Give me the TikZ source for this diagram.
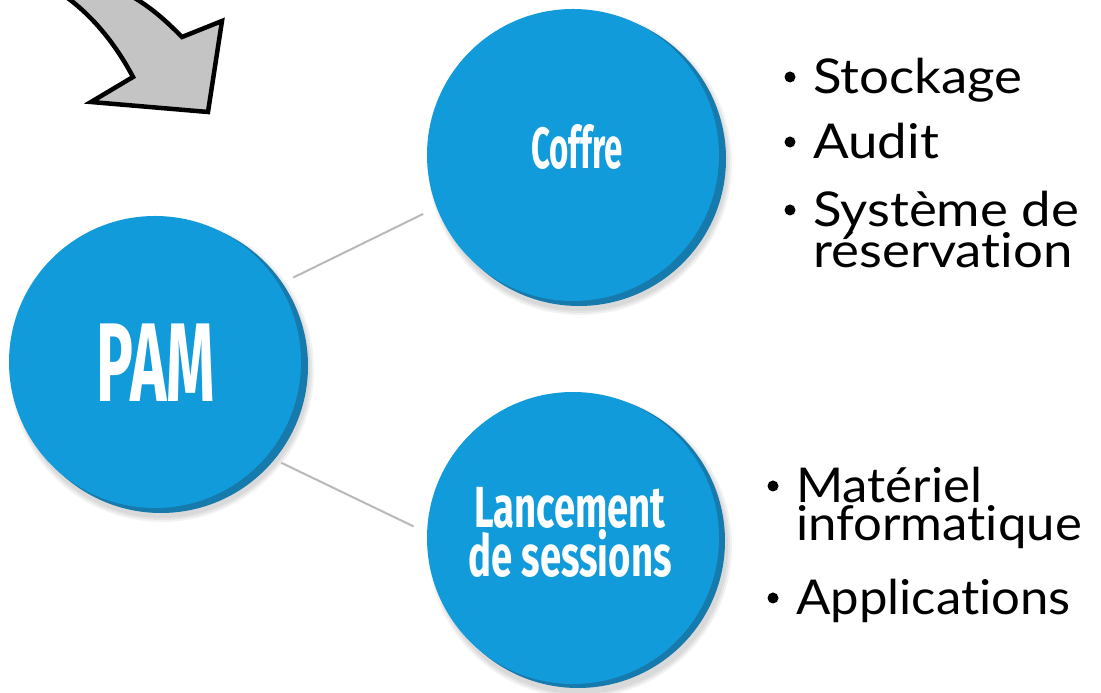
\documentclass[tikz,border=0pt]{standalone}
\usepackage{fontspec}
\setmainfont{Lato}[Ligatures=NoCommon]
\newfontfamily\condfont{Fira Sans}[Ligatures=NoCommon]
\usetikzlibrary{calc}
\definecolor{pamblue}{RGB}{17,155,218}
\definecolor{rimblue}{RGB}{22,122,172}
\definecolor{connGray}{RGB}{185,185,185}
\definecolor{arrowGray}{RGB}{196,196,196}
\begin{document}
\begin{tikzpicture}[x=1pt,y=1pt,
  bubble/.style={circle, fill=pamblue, minimum size=292pt, inner sep=0pt, outer sep=0pt},
  rimfill/.style={fill=rimblue},
  shadefill/.style={fill=black, opacity=0.05},
  conn/.style={draw=connGray, line width=2pt, shorten <=16pt, shorten >=15pt},
  bigtxt/.style={text=white, inner sep=0pt},
  itemtxt/.style={anchor=base west, xscale=1.1, font=\fontsize{48}{48}\selectfont, inner sep=0pt},
  itemtxtb/.style={itemtxt, xscale=1.06/1.1},
  dotnode/.style={circle, fill=black, minimum size=11pt, inner sep=0pt}
]
\useasboundingbox (0,0) rectangle (1101,693);
\clip (0,0) rectangle (1101,693);
\fill[white] (0,0) rectangle (1101,693);

% curved arrow
\draw[line width=4.5pt, fill=arrowGray, line join=miter]
  (20,720) .. controls (80,700) and (115,650) .. (133,616)
  -- (91,591) -- (208,581) -- (222,672) -- (182,656)
  .. controls (168,670) and (150,688) .. (122,702) -- (100,720) -- cycle;

% shadows and rims
\foreach \r in {148,150,152} {
  \fill[shadefill] (162,323) circle (\r);
  \fill[shadefill] (580,530) circle (\r);
  \fill[shadefill] (580,147) circle (\r);
}
\fill[rimfill] (161,327) circle (147);
\fill[rimfill] (579,534) circle (147);
\fill[rimfill] (578,152) circle (147);

% bubbles
\node[bubble] (PAM) at (155,331) {};
\node[bubble] (coffre) at (573,538) {};
\node[bubble] (lanc) at (573,155) {};

\node[bigtxt, xscale=0.55, font=\condfont\bfseries\fontsize{112}{112}\selectfont] (pamlbl) at (156,330) {PAM};
\node[bigtxt, xscale=0.57, font=\condfont\bfseries\fontsize{58}{58}\selectfont] (coffrelbl) at (577,546) {Coffre};
\node[bigtxt, xscale=0.66, align=center, anchor=base, font=\condfont\bfseries\fontsize{58}{46}\selectfont] (lanclbl) at (570,116) {Lancement\\de sessions};

% connectors
\draw[conn] (PAM.32) -- (coffre.201);
\draw[conn] (PAM.-40) -- (lanc.178);

% bullet lists
\node[dotnode] (b1) at (790,616) {};
\node[itemtxt] (t1) at (813,599) {Stockage};
\node[dotnode] (b2) at (790,551) {};
\node[itemtxt] (t2) at (813,534) {Audit};
\node[dotnode] (b3) at (790,483) {};
\node[itemtxt] (t3) at (813,466) {Système de};
\node[itemtxt] (t3b) at (813,425) {réservation};

\node[dotnode] (b4) at (773,207) {};
\node[itemtxtb] (t4) at (796,190) {Matériel};
\node[itemtxtb] (t4b) at (796,152) {informatique};
\node[dotnode] (b5) at (773,95) {};
\node[itemtxtb] (t5) at (796,78) {Applications};
\end{tikzpicture}
\end{document}
